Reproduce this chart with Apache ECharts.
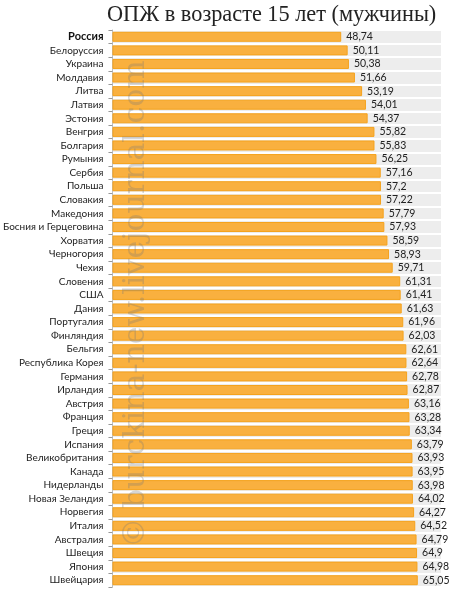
<!DOCTYPE html>
<html><head><meta charset="utf-8">
<script src="https://cdn.jsdelivr.net/npm/echarts@6/dist/echarts.min.js"></script>
<style>html,body{margin:0;padding:0;background:#fff}#c{width:453px;height:600px}</style>
</head><body><div id="c"></div>
<script>
const categories = ["Россия","Белоруссия","Украина","Молдавия","Литва","Латвия","Эстония","Венгрия","Болгария","Румыния","Сербия","Польша","Словакия","Македония","Босния и Герцеговина","Хорватия","Черногория","Чехия","Словения","США","Дания","Португалия","Финляндия","Бельгия","Республика Корея","Германия","Ирландия","Австрия","Франция","Греция","Испания","Великобритания","Канада","Нидерланды","Новая Зеландия","Норвегия","Италия","Австралия","Швеция","Япония","Швейцария"];
const values = [48.74,50.11,50.38,51.66,53.19,54.01,54.37,55.82,55.83,56.25,57.16,57.2,57.22,57.79,57.93,58.59,58.93,59.71,61.31,61.41,61.63,61.96,62.03,62.61,62.64,62.78,62.87,63.16,63.28,63.34,63.79,63.93,63.95,63.98,64.02,64.27,64.52,64.79,64.9,64.98,65.05];
const titleText = "ОПЖ в возрасте 15 лет (мужчины)";
const watermark = "© burckina-new.livejournal.com";

const chart = echarts.init(document.getElementById('c'), null, {renderer:'canvas'});
chart.setOption({
  animation:false,
  title:{text:titleText, top:4, left:107, padding:0, textStyle:{fontFamily:'Liberation Serif', fontSize:22.3, fontWeight:'normal', color:'#222'}},
  grid:{left:110, right:12, top:30, bottom:13, show:true, backgroundColor:'#ededed', borderWidth:0},
  xAxis:{type:'value', min:0, max:70, show:false},
  yAxis:{type:'category', data:categories, inverse:true,
    axisLine:{show:true, lineStyle:{color:'#bfbfbf'}},
    axisTick:{show:true, length:4, lineStyle:{color:'#999'}},
    splitLine:{show:true, lineStyle:{color:'#ffffff', width:2}},
    axisLabel:{interval:0, margin:9, fontFamily:'Lato', fontSize:10, color:'#222',
      formatter:(v)=> v==='Россия' ? '{b|'+v+'}' : v,
      rich:{b:{fontWeight:'bold', fontFamily:'Lato', fontSize:11, color:'#111'}}}
  },
  series:[{type:'bar', data:values, barWidth:10,
    itemStyle:{color:'#F9B03F', borderColor:'#F5A21C', borderWidth:1},
    label:{show:true, position:'right', distance:5, fontFamily:'Lato', fontSize:10.5, color:'#222',
      formatter:(p)=> String(p.value).replace('.',',')}
  }],
  graphic:[{type:'text', x:136, y:304, rotation:Math.PI/2, z:100,
    style:{text:watermark, fontFamily:'DejaVu Serif', fontSize:30, fill:'rgba(120,120,120,0.3)', textAlign:'center', textVerticalAlign:'middle'}}]
});
</script></body></html>
